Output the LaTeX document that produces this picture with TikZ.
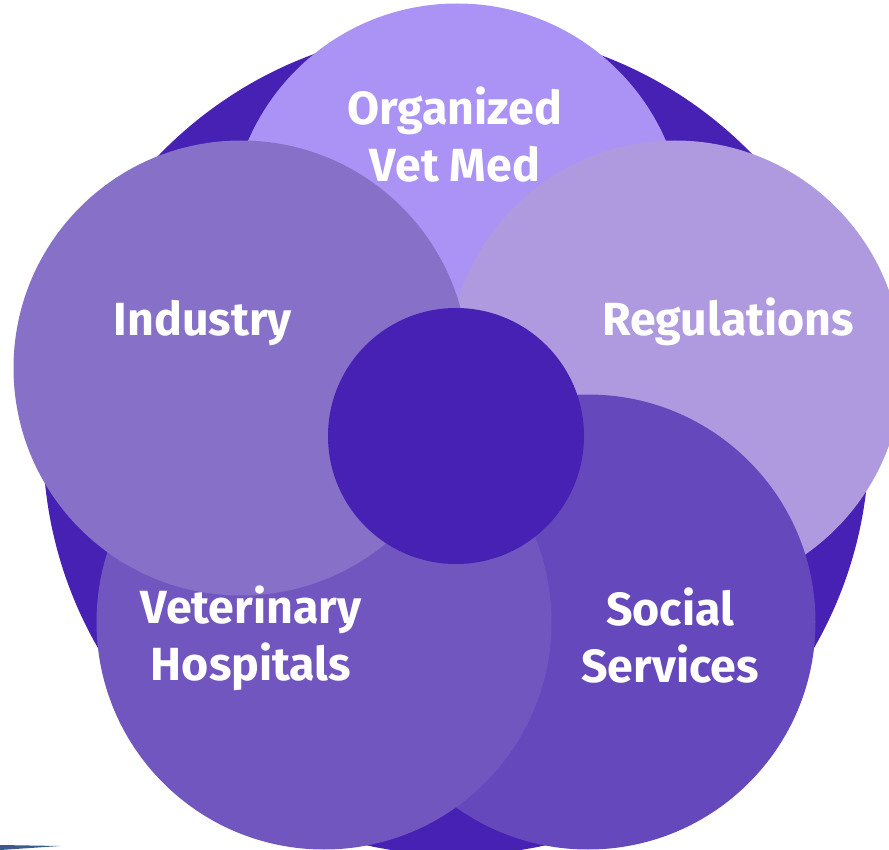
\documentclass[tikz,border=0pt]{standalone}
\usepackage{fontspec}
\setmainfont{Fira Sans}
\definecolor{hubdark}{HTML}{4720B4}
\definecolor{orgcol}{HTML}{AB92F5}
\definecolor{indcol}{HTML}{8770C7}
\definecolor{regcol}{HTML}{AF9ADF}
\definecolor{vetcol}{HTML}{7256C0}
\definecolor{soccol}{HTML}{6548BC}
\definecolor{stripcol}{HTML}{3A5C8C}
\tikzset{
  petal/.style={circle, draw=none, inner sep=0pt, minimum size=455pt},
  hub/.style={circle, draw=none, fill=hubdark, inner sep=0pt},
  petaltext/.style={align=center, text=white, anchor=base, inner sep=0pt, font=\fontsize{46.5}{57}\selectfont\bfseries}
}

\begin{document}
\begin{tikzpicture}[x=1pt, y=-1pt]
\useasboundingbox (0,0) rectangle (889,850);
\clip (0,0) rectangle (889,850);
% backdrop disc
\node[hub, minimum size=826pt] (ring) at (456,442) {};
% five petals, drawn in overlap order
\node[petal, fill=orgcol] (org) at (457,231) {};
\node[petal, fill=regcol] (reg) at (675,368) {};
\node[petal, fill=soccol] (soc) at (588,622) {};
\node[petal, fill=vetcol] (vet) at (324,622) {};
\node[petal, fill=indcol] (ind) at (241,368) {};
% middle disc
\node[hub, minimum size=256pt] (core) at (456,436) {};
% labels (base = last line)
\node[petaltext] (orgtext) at (455,182) {Organized\\Vet Med};
\node[petaltext] (indtext) at (203,335) {Industry};
\node[petaltext] (regtext) at (728,335) {Regulations};
\node[petaltext] (vettext) at (251,680) {Veterinary\\Hospitals};
\node[petaltext] (soctext) at (670,682) {Social\\Services};
% stray strip at the lower left
\fill[stripcol] (0,845) -- (60,846) -- (0,850) -- cycle;
\end{tikzpicture}
\end{document}
